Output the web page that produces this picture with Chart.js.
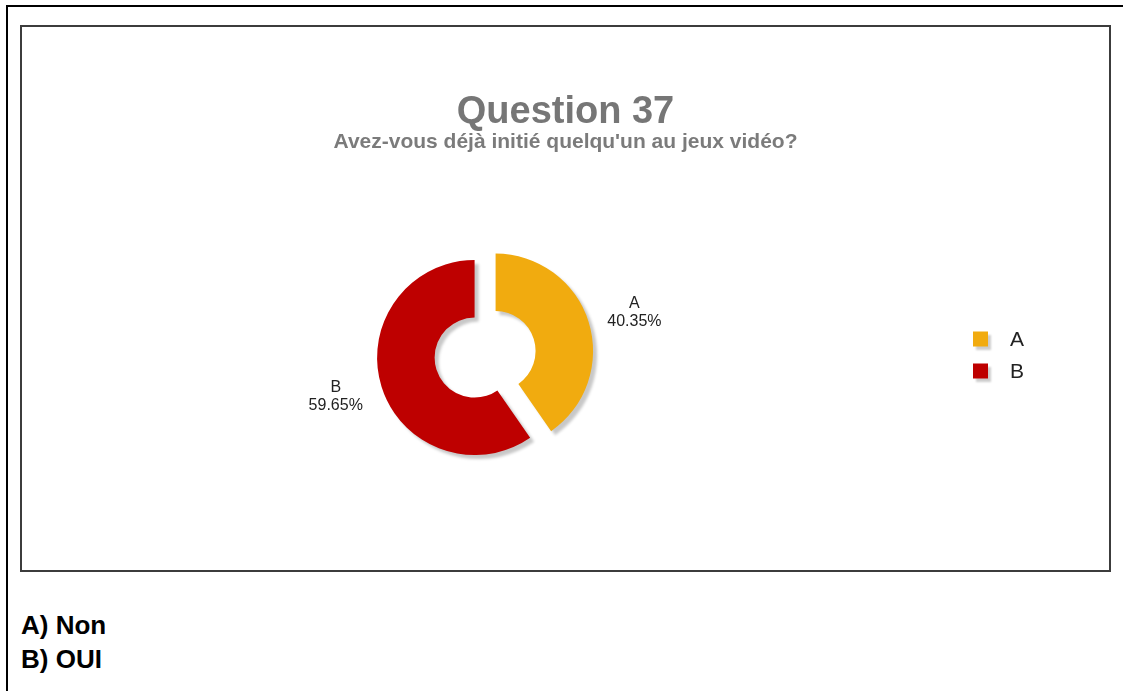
<!DOCTYPE html>
<html lang="fr">
<head>
<meta charset="utf-8">
<title>Question 37</title>
<script src="https://cdn.jsdelivr.net/npm/chart.js"></script>
<style>
  html, body { margin: 0; padding: 0; background: #fff; }
  body { width: 1123px; height: 691px; position: relative; overflow: hidden; font-family: Arial, "Liberation Sans", sans-serif; }
  .frame { position: absolute; left: 6px; top: 5px; width: 1200px; height: 700px; border-top: 2px solid #000; border-left: 2px solid #000; }
  .panel { position: absolute; left: 20px; top: 25px; width: 1087px; height: 543px; border: 2px solid #3c3c3c; background: #fff; }
  .panel canvas { display: block; }
  .answers { position: absolute; left: 21px; top: 608px; font: bold 26px/34px Arial, "Liberation Sans", sans-serif; color: #000; }
</style>
</head>
<body>
<div class="frame"></div>
<div class="panel"><canvas id="q37"></canvas></div>
<div class="answers">A) Non<br>B) OUI</div>

<script>
const categories = ['A', 'B'];
const shares = [40.35, 59.65];
const sliceColors = ['#F1AB0F', '#BE0000'];
const explode = [20, 2];

const FONT = 'Arial, "Liberation Sans", sans-serif';

// pull slices out along their middle angle
const explodeSlices = {
    id: 'explodeSlices',
    afterDatasetsUpdate(chart) {
        const meta = chart.getDatasetMeta(0);
        meta.data.forEach((arc, i) => {
            const d = explode[i] || 0;
            const mid = (arc.startAngle + arc.endAngle) / 2;
            arc.x += Math.cos(mid) * d;
            arc.y += Math.sin(mid) * d;
        });
    }
};

// drop shadow under the ring, then the value labels
const ringShadow = {
    id: 'ringShadow',
    beforeDatasetsDraw(chart) {
        const ctx = chart.ctx;
        ctx.save();
        ctx.shadowColor = 'rgba(0,0,0,0.22)';
        ctx.shadowBlur = 3;
        ctx.shadowOffsetX = 4;
        ctx.shadowOffsetY = 4;
    },
    afterDatasetsDraw(chart) {
        const ctx = chart.ctx;
        ctx.restore();

        const meta = chart.getDatasetMeta(0);
        ctx.save();
        ctx.fillStyle = '#222';
        ctx.font = '16px ' + FONT;
        ctx.textAlign = 'center';
        ctx.textBaseline = 'middle';
        meta.data.forEach((arc, i) => {
            const mid = (arc.startAngle + arc.endAngle) / 2;
            const x = arc.x + Math.cos(mid) * (arc.outerRadius + 48);
            const y = arc.y + Math.sin(mid) * (arc.outerRadius + 32);
            ctx.fillText(categories[i], x, y - 9);
            ctx.fillText(shares[i].toFixed(2) + '%', x, y + 9);
        });
        ctx.restore();
    }
};

// legend column on the right, kept as a layout box so the ring stays left of it
const sideLegend = {
    id: 'sideLegend',
    beforeInit(chart) {
        const box = {
            position: 'right',
            weight: 0,
            fullSize: false,
            options: {},
            isHorizontal() { return false; },
            update(maxWidth, maxHeight) {
                this.width = 178;
                this.height = maxHeight;
            },
            draw() {
                const ctx = chart.ctx;
                const mid = (this.top + this.bottom) / 2 - 2;
                const size = 15;
                ctx.save();
                ctx.font = '21px ' + FONT;
                ctx.textBaseline = 'middle';
                ctx.textAlign = 'left';
                categories.forEach((label, i) => {
                    const cy = mid + (i - (categories.length - 1) / 2) * 32;
                    ctx.save();
                    ctx.shadowColor = 'rgba(0,0,0,0.2)';
                    ctx.shadowBlur = 2;
                    ctx.shadowOffsetX = 3;
                    ctx.shadowOffsetY = 3;
                    ctx.fillStyle = sliceColors[i];
                    ctx.fillRect(this.left + 42, cy - size / 2, size, size);
                    ctx.restore();
                    ctx.fillStyle = '#222';
                    ctx.fillText(label, this.left + 79, cy + 1);
                });
                ctx.restore();
            }
        };
        Chart.layouts.addBox(chart, box);
    }
};

new Chart(document.getElementById('q37'), {
    type: 'doughnut',
    data: {
        labels: categories,
        datasets: [{
            data: shares,
            backgroundColor: sliceColors,
            borderWidth: 0
        }]
    },
    options: {
        responsive: true,
        maintainAspectRatio: false,
        animation: false,
        events: [],
        radius: 97.5,
        cutout: '41%',
        layout: { padding: { top: 0, left: 0, right: 0, bottom: 9 } },
        plugins: {
            legend: { display: false },
            tooltip: { enabled: false },
            title: {
                display: true,
                text: 'Question 37',
                color: '#767676',
                font: { family: FONT, size: 38, weight: 'bold', lineHeight: 1 },
                padding: { top: 67, bottom: 0 }
            },
            subtitle: {
                display: true,
                text: "Avez-vous déjà initié quelqu'un au jeux vidéo?",
                color: '#7b7b7b',
                font: { family: FONT, size: 21, weight: 'bold', lineHeight: 1 },
                padding: { top: 0, bottom: 0 }
            }
        }
    },
    plugins: [explodeSlices, ringShadow, sideLegend]
});
</script>
</body>
</html>
